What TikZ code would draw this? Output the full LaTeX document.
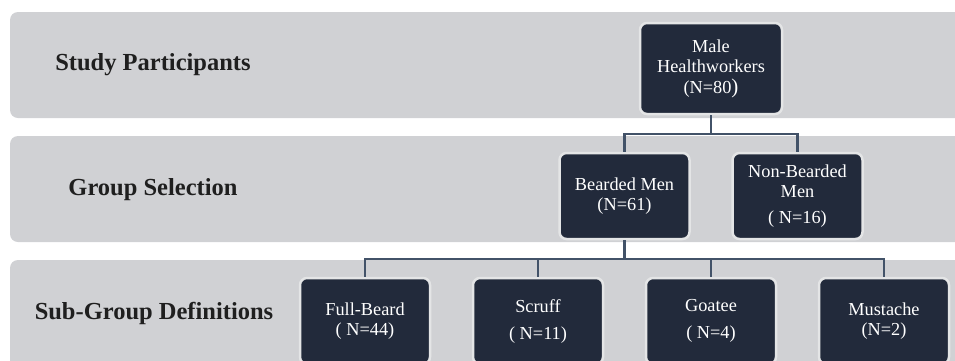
\documentclass[tikz,border=0pt]{standalone}
\usepackage{fontspec}
\setmainfont{Liberation Serif}
\usepackage{xcolor}
\definecolor{bandgray}{RGB}{208,209,212}
\definecolor{boxnavy}{RGB}{34,42,59}
\definecolor{boxrim}{RGB}{228,229,230}
\definecolor{linkslate}{RGB}{66,82,104}

\tikzset{
  band/.style={fill=bandgray, rounded corners=8pt},
  bandlabel/.style={font=\fontsize{24.5}{28}\selectfont\bfseries, text=black!88},
  group/.style={draw=boxrim, line width=2.5pt, fill=boxnavy, text=white,
    rounded corners=7pt, minimum width=130pt, minimum height=86pt,
    align=center, inner sep=2pt, font=\fontsize{18.3}{20}\selectfont}
}

\begin{document}
\begin{tikzpicture}[x=1pt, y=1pt,
  level 1/.style={level distance=127.5pt, sibling distance=173pt},
  level 2/.style={level distance=125pt, sibling distance=173pt},
  every child node/.style={group},
  edge from parent/.style={draw=linkslate, line width=2.5pt},
  edge from parent path={(\tikzparentnode.south) -- ++(0,-18.5) -| (\tikzchildnode.north)}]

  \useasboundingbox (0,0) rectangle (955,-360);
  \clip (0,0) rectangle (955,-360);

  \fill[band] (10,-12) rectangle (975,-118);
  \fill[band] (10,-136) rectangle (975,-242);
  \fill[band] (10,-260) rectangle (975,-400);

  \node[bandlabel] (studyLbl) at (153,-65) {Study Participants};
  \node[bandlabel] (groupLbl) at (153,-190) {Group Selection};
  \node[bandlabel] (subLbl) at (154,-313) {Sub-Group Definitions};

  \node[group, minimum width=142pt, minimum height=91pt] (male) at (711,-68.5)
    {Male\\Healthworkers\\[1pt](N=80{\fontsize{21}{20}\selectfont)}}
    child {node (bearded) {Bearded Men\\(N=61)}
      child {node (full) {Full-Beard\\( N=44)}}
      child {node (scruff) {Scruff\\[7pt]( N=11)}}
      child {node (goatee) {Goatee\\[7pt]( N=4)}}
      child {node (mustache) {Mustache\\(N=2)}}
    }
    child {node (nonbearded) {Non-Bearded\\Men\\[6pt]( N=16)}};
\end{tikzpicture}
\end{document}
